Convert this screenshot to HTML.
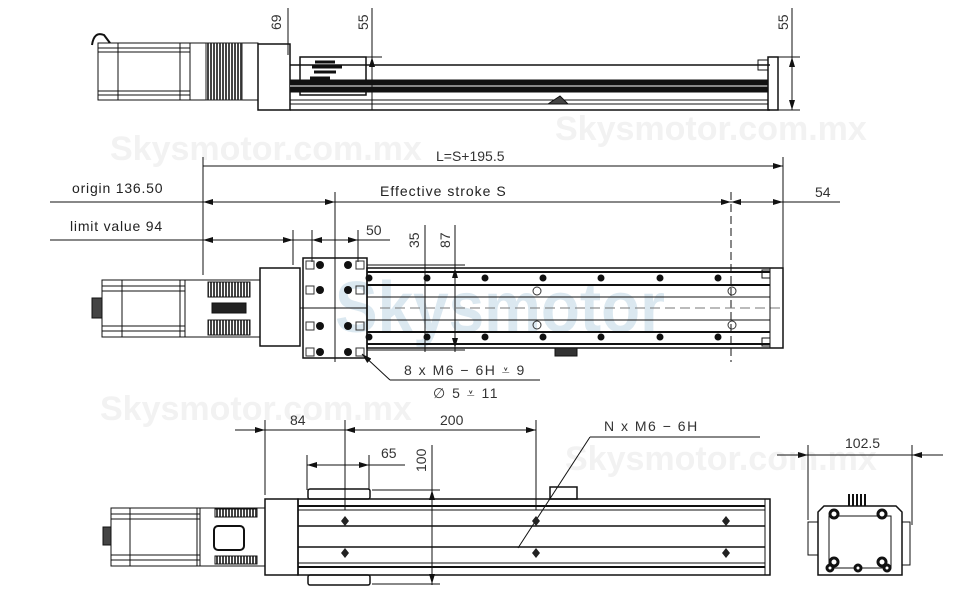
<!DOCTYPE html>
<html><head><meta charset="utf-8"><style>
html,body{margin:0;padding:0;background:#fff}
svg{display:block}
text{font-family:"Liberation Sans",sans-serif;fill:#222}
.n{font-family:"Liberation Sans Narrow","Liberation Sans",sans-serif;font-size:14px;fill:#333}
.wm{font-family:"Liberation Sans",sans-serif;font-size:34px;font-weight:bold;fill:#f2f2f2}
</style></head><body>
<svg width="970" height="600" viewBox="0 0 970 600" xmlns="http://www.w3.org/2000/svg">
<defs>
<marker id="a" viewBox="0 0 10 6" refX="10" refY="3" markerWidth="10" markerHeight="6" orient="auto-start-reverse" markerUnits="userSpaceOnUse"><path d="M0,0L10,3L0,6z" fill="#111"/></marker>
<pattern id="h" width="3" height="10" patternUnits="userSpaceOnUse"><rect width="3" height="10" fill="#fff"/><rect width="2" height="10" fill="#444"/></pattern>
</defs>
<!-- watermarks -->
<text class="wm" x="110" y="160">Skysmotor.com.mx</text>
<text class="wm" x="555" y="140">Skysmotor.com.mx</text>
<text class="wm" x="100" y="420">Skysmotor.com.mx</text>
<text class="wm" x="565" y="470">Skysmotor.com.mx</text>
<text x="335" y="332" font-size="72" font-weight="bold" textLength="330" lengthAdjust="spacingAndGlyphs" style="fill:#dbe8f0">Skysmotor</text>

<g stroke="#111" fill="none" stroke-width="1">
<!-- ===== TOP VIEW ===== -->
<path d="M92,45 q2,-14 12,-10 l6,8" stroke-width="2"/>
<rect x="98" y="43" width="92" height="57"/>
<line x1="98" y1="48" x2="190" y2="48"/><line x1="98" y1="52" x2="190" y2="52"/>
<line x1="98" y1="91" x2="190" y2="91"/><line x1="98" y1="95" x2="190" y2="95"/>
<line x1="118" y1="43" x2="118" y2="100"/><line x1="180" y1="43" x2="180" y2="100"/>
<rect x="190" y="43" width="68" height="57"/>
<rect x="206" y="43" width="36" height="57" fill="url(#h)" stroke="#222"/>
<rect x="258" y="44" width="32" height="66" stroke-width="1.5"/>
<rect x="300" y="57" width="66" height="38" stroke-width="1.5"/>
<path d="M315,62 h20 M312,67 h30 M314,72 h22 M310,78 h20 M316,83 h16" stroke-width="3"/>
<line x1="290" y1="65" x2="770" y2="65" stroke-width="1.5"/>
<rect x="290" y="80" width="478" height="12" fill="#111"/>
<line x1="290" y1="86" x2="768" y2="86" stroke="#fff"/>
<line x1="290" y1="100" x2="768" y2="100"/>
<line x1="290" y1="104" x2="768" y2="104"/>
<line x1="290" y1="110" x2="770" y2="110" stroke-width="1.5"/>
<rect x="768" y="57" width="10" height="53" stroke-width="1.5"/>
<rect x="758" y="60" width="10" height="10"/>
<path d="M548,104 l12,-8 l8,8 z" fill="#444"/>
<!-- top dims -->
<line x1="288" y1="8" x2="288" y2="55"/>
<line x1="372" y1="8" x2="372" y2="110"/>
<line x1="366" y1="57" x2="382" y2="57"/>
<line x1="372" y1="57" x2="372" y2="70" marker-start="url(#a)"/>
<line x1="778" y1="57" x2="800" y2="57"/><line x1="778" y1="110" x2="800" y2="110"/>
<line x1="792" y1="8" x2="792" y2="110"/>
<line x1="792" y1="57" x2="792" y2="110" marker-start="url(#a)" marker-end="url(#a)"/>

<!-- ===== MIDDLE DIMENSIONS ===== -->
<line x1="203" y1="157" x2="203" y2="275"/>
<line x1="783" y1="157" x2="783" y2="268"/>
<line x1="203" y1="166" x2="783" y2="166" marker-end="url(#a)"/>
<line x1="50" y1="202" x2="840" y2="202"/>
<line x1="203" y1="202" x2="335" y2="202" marker-start="url(#a)" marker-end="url(#a)"/>
<line x1="335" y1="192" x2="335" y2="262"/>
<line x1="712" y1="202" x2="731" y2="202" marker-end="url(#a)"/>
<line x1="750" y1="202" x2="731" y2="202" marker-end="url(#a)"/>
<line x1="763" y1="202" x2="783" y2="202" marker-end="url(#a)"/>
<line x1="731" y1="192" x2="731" y2="362" stroke-dasharray="8,4"/>
<line x1="50" y1="240" x2="390" y2="240"/>
<line x1="203" y1="240" x2="293" y2="240" marker-start="url(#a)" marker-end="url(#a)"/>
<line x1="293" y1="230" x2="293" y2="265"/>
<line x1="312" y1="230" x2="312" y2="262"/>
<line x1="358" y1="230" x2="358" y2="262"/>
<line x1="312" y1="240" x2="335" y2="240" marker-start="url(#a)"/>
<line x1="335" y1="240" x2="358" y2="240" marker-end="url(#a)"/>
<line x1="425" y1="225" x2="425" y2="352"/>
<line x1="455" y1="225" x2="455" y2="352"/>
<line x1="455" y1="268" x2="455" y2="348" marker-start="url(#a)" marker-end="url(#a)"/>
<line x1="367" y1="265" x2="465" y2="265"/><line x1="367" y1="350" x2="465" y2="350"/>

<!-- ===== MIDDLE VIEW ===== -->
<rect x="92" y="298" width="10" height="20" fill="#444"/>
<rect x="102" y="280" width="83" height="57"/>
<line x1="102" y1="286" x2="185" y2="286"/><line x1="102" y1="291" x2="185" y2="291"/>
<line x1="102" y1="326" x2="185" y2="326"/><line x1="102" y1="331" x2="185" y2="331"/>
<line x1="122" y1="280" x2="122" y2="337"/><line x1="180" y1="280" x2="180" y2="337"/>
<rect x="185" y="280" width="75" height="57"/>
<rect x="208" y="282" width="42" height="15" fill="url(#h)"/>
<rect x="208" y="320" width="42" height="15" fill="url(#h)"/>
<rect x="212" y="303" width="34" height="10" fill="#222"/>
<rect x="260" y="268" width="40" height="78" stroke-width="1.5"/>
<rect x="303" y="258" width="64" height="100" stroke-width="1.5"/>
<rect x="367" y="268" width="416" height="80" stroke-width="1.5"/>
<line x1="367" y1="272" x2="770" y2="272" stroke-width="2"/>
<line x1="367" y1="285" x2="770" y2="285" stroke-width="2"/>
<line x1="367" y1="297" x2="770" y2="297"/>
<line x1="367" y1="320" x2="770" y2="320"/>
<line x1="367" y1="332" x2="770" y2="332" stroke-width="2"/>
<line x1="367" y1="344" x2="770" y2="344" stroke-width="2"/>
<line x1="380" y1="308" x2="780" y2="308" stroke-dasharray="10,5" stroke="#777"/>
<line x1="770" y1="268" x2="770" y2="348"/>
<rect x="762" y="270" width="8" height="8"/><rect x="762" y="338" width="8" height="8"/>
<rect x="555" y="348" width="22" height="8" fill="#333"/>
<line x1="335" y1="255" x2="335" y2="362"/>
<line x1="300" y1="308" x2="367" y2="308"/>
</g>
<g fill="#111">
<circle cx="320" cy="265" r="4"/><circle cx="348" cy="265" r="4"/>
<circle cx="320" cy="290" r="4"/><circle cx="348" cy="290" r="4"/>
<circle cx="320" cy="326" r="4"/><circle cx="348" cy="326" r="4"/>
<circle cx="320" cy="352" r="4"/><circle cx="348" cy="352" r="4"/>
<circle cx="369" cy="278" r="3.5"/><circle cx="427" cy="278" r="3.5"/><circle cx="485" cy="278" r="3.5"/><circle cx="543" cy="278" r="3.5"/><circle cx="601" cy="278" r="3.5"/><circle cx="660" cy="278" r="3.5"/><circle cx="718" cy="278" r="3.5"/>
<circle cx="369" cy="337" r="3.5"/><circle cx="427" cy="337" r="3.5"/><circle cx="485" cy="337" r="3.5"/><circle cx="543" cy="337" r="3.5"/><circle cx="601" cy="337" r="3.5"/><circle cx="660" cy="337" r="3.5"/><circle cx="718" cy="337" r="3.5"/>
</g>
<g fill="none" stroke="#333">
<circle cx="537" cy="291" r="4"/><circle cx="537" cy="325" r="4"/><circle cx="732" cy="291" r="4"/><circle cx="732" cy="325" r="4"/>
<rect x="306" y="261" width="8" height="8"/><rect x="356" y="261" width="8" height="8"/>
<rect x="306" y="286" width="8" height="8"/><rect x="356" y="286" width="8" height="8"/>
<rect x="306" y="322" width="8" height="8"/><rect x="356" y="322" width="8" height="8"/>
<rect x="306" y="348" width="8" height="8"/><rect x="356" y="348" width="8" height="8"/>
</g>
<g stroke="#111" fill="none">
<line x1="390" y1="380" x2="362" y2="354" marker-end="url(#a)"/>
<line x1="390" y1="380" x2="540" y2="380"/>

<!-- ===== BOTTOM DIMS ===== -->
<line x1="235" y1="430" x2="265" y2="430" marker-end="url(#a)"/>
<line x1="265" y1="430" x2="345" y2="430"/>
<line x1="345" y1="430" x2="536" y2="430" marker-start="url(#a)" marker-end="url(#a)"/>
<line x1="265" y1="420" x2="265" y2="495"/>
<line x1="345" y1="420" x2="345" y2="510"/>
<line x1="536" y1="420" x2="536" y2="510"/>
<line x1="307" y1="455" x2="307" y2="490"/><line x1="369" y1="455" x2="369" y2="490"/>
<line x1="307" y1="465" x2="345" y2="465" marker-start="url(#a)"/>
<line x1="345" y1="465" x2="369" y2="465" marker-end="url(#a)"/>
<line x1="369" y1="465" x2="405" y2="465"/>
<line x1="432" y1="445" x2="432" y2="585"/>
<line x1="432" y1="490" x2="432" y2="584" marker-start="url(#a)" marker-end="url(#a)"/>
<line x1="372" y1="490" x2="440" y2="490"/><line x1="372" y1="584" x2="440" y2="584"/>
<line x1="590" y1="437" x2="760" y2="437"/>
<line x1="590" y1="437" x2="518" y2="548"/>

<!-- ===== BOTTOM VIEW ===== -->
<rect x="103" y="527" width="8" height="18" fill="#444"/>
<rect x="111" y="508" width="89" height="58"/>
<line x1="111" y1="514" x2="200" y2="514"/><line x1="111" y1="519" x2="200" y2="519"/>
<line x1="111" y1="555" x2="200" y2="555"/><line x1="111" y1="560" x2="200" y2="560"/>
<line x1="130" y1="508" x2="130" y2="566"/><line x1="197" y1="508" x2="197" y2="566"/>
<rect x="200" y="508" width="65" height="58"/>
<rect x="215" y="509" width="42" height="8" fill="url(#h)"/>
<rect x="215" y="556" width="42" height="8" fill="url(#h)"/>
<rect x="214" y="526" width="30" height="24" rx="4" stroke-width="2"/>
<rect x="265" y="499" width="33" height="76" stroke-width="1.5"/>
<rect x="298" y="499" width="472" height="76" stroke-width="1.5"/>
<line x1="298" y1="506" x2="765" y2="506" stroke-width="2"/>
<line x1="298" y1="510" x2="765" y2="510"/>
<line x1="298" y1="526" x2="765" y2="526" stroke-width="1.5"/>
<line x1="298" y1="547" x2="765" y2="547" stroke-width="1.5"/>
<line x1="298" y1="563" x2="765" y2="563"/>
<line x1="298" y1="567" x2="765" y2="567" stroke-width="2"/>
<line x1="765" y1="499" x2="765" y2="575"/>
<rect x="308" y="489" width="62" height="10" rx="2" stroke-width="1.5"/>
<rect x="308" y="575" width="62" height="10" rx="2" stroke-width="1.5"/>
<rect x="550" y="487" width="27" height="12" stroke-width="1.5"/>

<!-- ===== END VIEW ===== -->
<line x1="777" y1="455" x2="808" y2="455" marker-end="url(#a)"/>
<line x1="808" y1="455" x2="912" y2="455"/>
<line x1="943" y1="455" x2="912" y2="455" marker-end="url(#a)"/>
<line x1="808" y1="445" x2="808" y2="520"/>
<line x1="912" y1="445" x2="912" y2="525"/>
<path d="M818,575 V512 l6,-6 h72 l6,6 V575 z" stroke-width="1.5"/>
<rect x="829" y="516" width="62" height="52"/>
<rect x="808" y="522" width="10" height="33"/>
<rect x="902" y="522" width="8" height="43"/>
<path d="M849,506 v-12 M853,506 v-12 M857,506 v-12 M861,506 v-12 M865,506 v-12" stroke-width="2"/>
</g>
<g fill="#fff" stroke="#111" stroke-width="3">
<circle cx="834" cy="514" r="4"/><circle cx="882" cy="514" r="4"/>
<circle cx="834" cy="562" r="4"/><circle cx="882" cy="562" r="4"/>
<circle cx="830" cy="568" r="3"/><circle cx="858" cy="568" r="3"/><circle cx="887" cy="568" r="3"/>
</g>
<g fill="#222">
<path d="M345,516l4,5l-4,5l-4,-5z M345,548l4,5l-4,5l-4,-5z M536,516l4,5l-4,5l-4,-5z M536,548l4,5l-4,5l-4,-5z M726,516l4,5l-4,5l-4,-5z M726,548l4,5l-4,5l-4,-5z"/>
</g>

<!-- ===== TEXT ===== -->
<text class="n" transform="translate(281,30) rotate(-90)">69</text>
<text class="n" transform="translate(368,30) rotate(-90)">55</text>
<text class="n" transform="translate(788,30) rotate(-90)">55</text>
<text class="n" x="436" y="161">L=S+195.5</text>
<text x="380" y="196" font-size="14" letter-spacing="1">Effective stroke S</text>
<text x="72" y="193" font-size="14" letter-spacing="0.8">origin 136.50</text>
<text x="70" y="231" font-size="14" letter-spacing="0.8">limit value 94</text>
<text class="n" x="815" y="197">54</text>
<text class="n" x="366" y="235">50</text>
<text class="n" transform="translate(419,248) rotate(-90)">35</text>
<text class="n" transform="translate(450,248) rotate(-90)">87</text>
<text class="n" x="404" y="375" letter-spacing="1.5">8 x  M6 − 6H ⩡ 9</text>
<text class="n" x="433" y="398" letter-spacing="1.5">∅ 5 ⩡ 11</text>
<text class="n" x="290" y="425">84</text>
<text class="n" x="440" y="425">200</text>
<text class="n" x="381" y="458">65</text>
<text class="n" transform="translate(426,472) rotate(-90)">100</text>
<text class="n" x="604" y="431" letter-spacing="1.5">N x  M6 − 6H</text>
<text class="n" x="845" y="448">102.5</text>
</svg>
</body></html>
